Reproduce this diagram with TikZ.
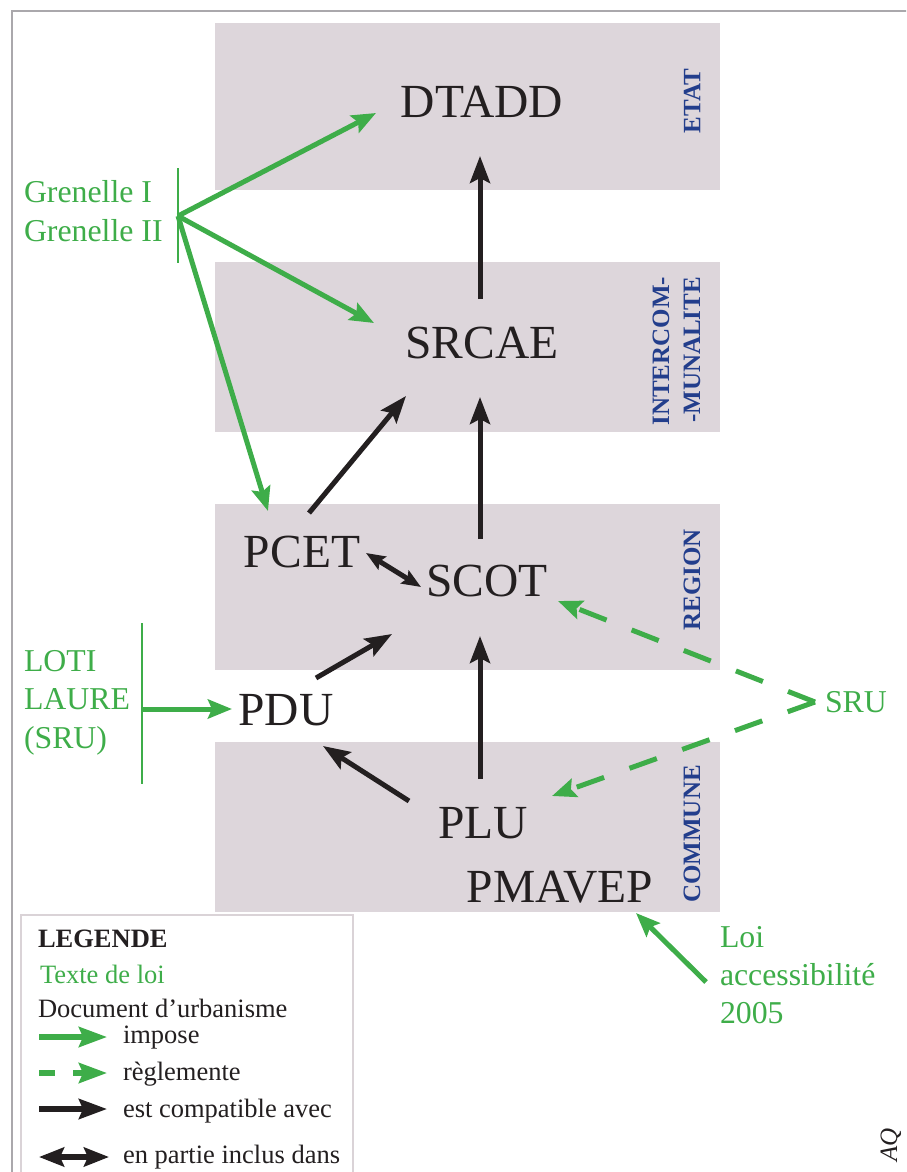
\documentclass[tikz,border=0pt]{standalone}
\usepackage{fontspec}
\setmainfont{Liberation Serif}
\usetikzlibrary{arrows.meta,calc}
\definecolor{band}{RGB}{221,214,219}
\definecolor{lawgreen}{RGB}{62,173,73}
\definecolor{lvlblue}{RGB}{35,62,140}
\definecolor{ink}{RGB}{35,31,32}
\definecolor{framegray}{RGB}{170,168,172}
\definecolor{legframe}{RGB}{218,211,215}
\begin{document}
\begin{tikzpicture}[x=1pt,y=-1pt,
  bandbox/.style={fill=band, draw=none},
  doc/.style={font=\fontsize{47.5}{56}\selectfont, text=ink, inner sep=0pt, outer sep=0pt, anchor=base},
  law/.style={font=\fontsize{31.8}{37}\selectfont, text=lawgreen, inner sep=0pt, outer sep=0pt, anchor=base west},
  lvl/.style={font=\bfseries\fontsize{25}{30}\selectfont, text=lvlblue, rotate=90, inner sep=0pt, outer sep=0pt},
  legtxt/.style={font=\fontsize{26.5}{30}\selectfont, text=ink, inner sep=0pt, outer sep=0pt, anchor=base west},
  compat/.style={draw=ink, line width=5pt, -{Stealth[length=27pt,width=20pt,inset=5pt]}},
  impose/.style={draw=lawgreen, line width=5pt, -{Stealth[length=24pt,width=19pt,inset=4pt]}},
  regle/.style={impose, dash pattern=on 29pt off 27pt},
  incl/.style={draw=ink, line width=5pt, {Stealth[length=19pt,width=15pt,inset=3pt]}-{Stealth[length=19pt,width=15pt,inset=3pt]}},
  lawbar/.style={draw=lawgreen, line width=2.5pt},
]
\useasboundingbox (0,0) rectangle (906,1172);
\clip (0,0) rectangle (906,1172);
% outer frame
\draw[framegray, line width=2pt] (12,11) rectangle (930,1200);
% bands
\fill[band] (215,23) rectangle (720,190);
\fill[band] (215,262) rectangle (720,432);
\fill[band] (215,504) rectangle (720,670);
\fill[band] (215,742) rectangle (720,912);
% level labels
\node[lvl] (etat) at (692,101) {ETAT};
\node[lvl, anchor=east] (inter1) at (661,277) {INTERCOM-};
\node[lvl, anchor=east] (inter2) at (692,277) {-MUNALITE};
\node[lvl] (region) at (692,580) {REGION};
\node[lvl] (commune) at (692,834) {COMMUNE};
% documents
\node[doc] (DTADD) at (482,117) {DTADD};
\node[doc] (SRCAE) at (482,358) {SRCAE};
\node[doc] (PCET) at (302,567) {PCET};
\node[doc] (SCOT) at (487,596) {SCOT};
\node[doc] (PDU) at (286,725) {PDU};
\node[doc] (PLU) at (483,838) {PLU};
\node[doc] (PMAVEP) at (560,902) {PMAVEP};
% laws
\node[law] (gren1) at (24,202) {Grenelle I};
\node[law] (gren2) at (24,241) {Grenelle II};
\coordinate (gfan) at (178,216);
\draw[lawbar] ($(gfan)+(0,-48)$) -- ($(gfan)+(0,47)$);
\node[law] (loti) at (24,671) {LOTI};
\node[law] (laure) at (24,709) {LAURE};
\node[law] (srul) at (24,748) {(SRU)};
\coordinate (lbar) at (142,709);
\draw[lawbar] ($(lbar)+(0,-86)$) -- ($(lbar)+(0,75)$);
\node[law] (SRU) at (825,712) {SRU};
\coordinate (sfork) at ($(SRU.base west)+(-10,-10)$);
\node[law] (loi) at (720,947) {Loi};
\node[law] (acc) at (720,985) {accessibilité};
\node[law] (an) at (720,1023) {2005};
% green impose arrows
\draw[impose] (gfan) -- ($(DTADD.base)+(-106,-4)$);
\draw[impose] (gfan) -- ($(SRCAE.base)+(-108,-35)$);
\draw[impose] (gfan) -- ($(PCET.base)+(-34,-56)$);
\draw[impose] (lbar) -- ($(PDU.base)+(-54,-16)$);
\draw[impose] ($(acc.base west)+(-14,-3)$) -- ($(PMAVEP.base)+(76,11)$);
% green dashed
\draw[regle] (sfork) -- ($(SCOT.base)+(71,5)$);
\draw[regle] (sfork) -- ($(PLU.base)+(69,-42)$);
% black compat arrows
\draw[compat] ($(SRCAE.base)+(-2,-59)$) -- ($(DTADD.base)+(-2,39)$);
\draw[compat] ($(SCOT.base)+(-7,-57)$) -- ($(SRCAE.base)+(-2,39)$);
\draw[compat] ($(PCET.base)+(7,-54)$) -- ($(SRCAE.base)+(-76,38)$);
\draw[incl] ($(PCET.base)+(64,-14)$) -- ($(SCOT.base)+(-66,-9)$);
\draw[compat] ($(PDU.base)+(30,-47)$) -- ($(SCOT.base)+(-95,38)$);
\draw[compat] ($(PLU.base)+(-3,-59)$) -- ($(SCOT.base)+(-7,40)$);
\draw[compat] ($(PLU.base)+(-74,-37)$) -- ($(PDU.base)+(37,21)$);
% legend
\draw[legframe, line width=2pt, fill=white] (21,915) rectangle (353,1200);
\node[legtxt, font=\bfseries\fontsize{26.5}{30}\selectfont] (leg) at (38,947) {LEGENDE};
\node[legtxt, text=lawgreen] (lt1) at (40,983) {Texte de loi};
\node[legtxt] (lt2) at (38,1017) {Document d’urbanisme};
\node[legtxt] (lt3) at (123,1043) {impose};
\node[legtxt] (lt4) at (123,1080) {règlemente};
\node[legtxt] (lt5) at (123,1117) {est compatible avec};
\node[legtxt] (lt6) at (123,1163) {en partie inclus dans};
\coordinate (a1s) at (39,1037); \coordinate (a1e) at (107,1037);
\coordinate (a2s) at (39,1073); \coordinate (a2e) at (107,1073);
\coordinate (a3s) at (39,1109); \coordinate (a3e) at (107,1109);
\coordinate (a4s) at (39,1157); \coordinate (a4e) at (109,1157);
\draw[draw=lawgreen, line width=5.5pt, -{Stealth[length=28pt,width=20pt,inset=4pt]}] (a1s) -- (a1e);
\draw[draw=lawgreen, line width=5.5pt, dash pattern=on 16pt off 18pt, -{Stealth[length=28pt,width=20pt,inset=4pt]}] (a2s) -- (a2e);
\draw[draw=ink, line width=5.5pt, -{Stealth[length=28pt,width=20pt,inset=4pt]}] (a3s) -- (a3e);
\draw[draw=ink, line width=5.5pt, {Stealth[length=25pt,width=19pt,inset=4pt]}-{Stealth[length=25pt,width=19pt,inset=4pt]}] (a4s) -- (a4e);
% margin text
\node[rotate=90, anchor=base west, font=\itshape\fontsize{25}{30}\selectfont, text=ink, inner sep=0pt] (aq) at (897,1162) {AQ};
\end{tikzpicture}
\end{document}
